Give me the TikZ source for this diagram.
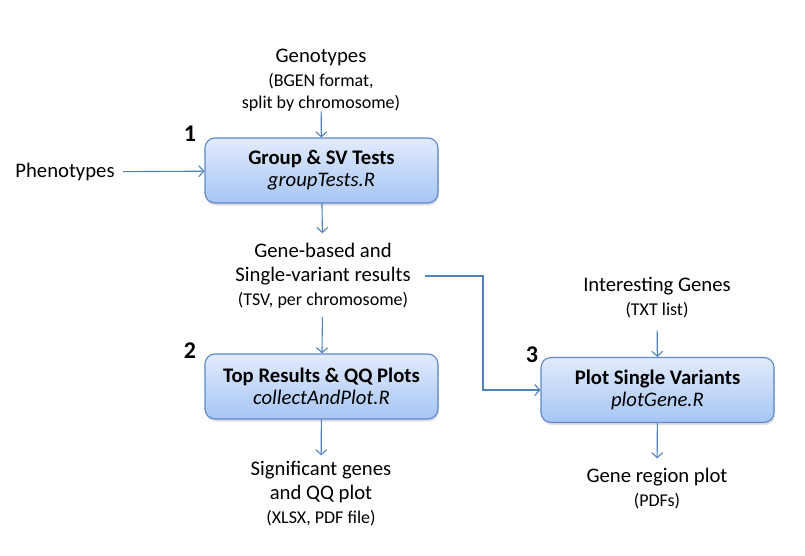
\documentclass[tikz,border=0pt]{standalone}
\usepackage{fontspec}
\setmainfont{Carlito}
\usetikzlibrary{positioning,arrows.meta,shadows}
\definecolor{boxtop}{RGB}{226,235,252}
\definecolor{boxbottom}{RGB}{166,197,244}
\definecolor{boxline}{RGB}{94,136,202}
\definecolor{flow}{RGB}{79,129,189}
\newcommand{\mainsize}{\fontsize{20.7}{24}\selectfont}
\newcommand{\notesize}{\fontsize{18}{22}\selectfont}
\begin{document}
\begin{tikzpicture}[x=1pt,y=-1pt,font=\mainsize]
    \tikzstyle{script}=[draw=boxline, line width=1.1pt, rounded corners=10pt, top color=boxtop, bottom color=boxbottom, minimum width=233pt, minimum height=65pt, align=center, drop shadow={shadow xshift=1pt,shadow yshift=-2.5pt,opacity=0.25}]
    \tikzstyle{data}=[align=center, inner sep=0pt]
    \tikzstyle{flowline}=[flow, line width=1.1pt, -{Straight Barb[length=5pt,width=11pt]}]
    \tikzstyle{stepnum}=[font=\fontsize{24}{24}\selectfont\bfseries, inner sep=0pt]
    \useasboundingbox (0,0) rectangle (805,556);

    % the three scripts
    \node[script] (tests) at (321.5,170.5) {\textbf{Group \& SV Tests}\\[-2pt]\textit{groupTests.R}};
    \node[script] (collect) at (321.5,386.5) {\textbf{Top Results \& QQ Plots}\\[-2pt]\textit{collectAndPlot.R}};
    \node[script] (plotgene) at (657.5,390) {\textbf{Plot Single Variants}\\[-2pt]\textit{plotGene.R}};
    \node[stepnum] at (190,134) {1};
    \node[stepnum] at (190,351) {2};
    \node[stepnum] at (532,355) {3};

    % inputs and outputs
    \node[data] (geno) at (321,80) {Genotypes\\{\notesize (BGEN format,}\\[-2pt]{\notesize split by chromosome)}};
    \node[data] (pheno) at (65,172) {Phenotypes};
    \node[data] (results) at (323,276) {Gene-based and\\Single-variant results\\{\notesize (TSV, per chromosome)}};
    \node[data] (signif) at (321,494) {Significant genes\\and QQ plot\\{\notesize (XLSX, PDF file)}};
    \node[data] (genes) at (657,298) {Interesting Genes\\{\notesize (TXT list)}};
    \node[data] (region) at (657,489) {Gene region plot\\{\notesize (PDFs)}};
    \coordinate (bend) at (483,0);

    \draw[flowline] (geno) -- (tests);
    \draw[flowline,shorten <=8pt] (pheno) -- (tests);
    \draw[flowline,shorten >=10pt] (tests) -- (results);
    \draw[flowline,shorten <=8pt] (results) -- (collect);
    \draw[flowline,shorten >=6pt] (collect) -- (signif);
    \draw[flowline,shorten <=14pt] (results.east) -- (results.east -| bend) |- (plotgene.west);
    \draw[flowline,shorten <=12pt] (genes) -- (plotgene);
    \draw[flowline,shorten >=10pt] (plotgene) -- (region);
\end{tikzpicture}
\end{document}
